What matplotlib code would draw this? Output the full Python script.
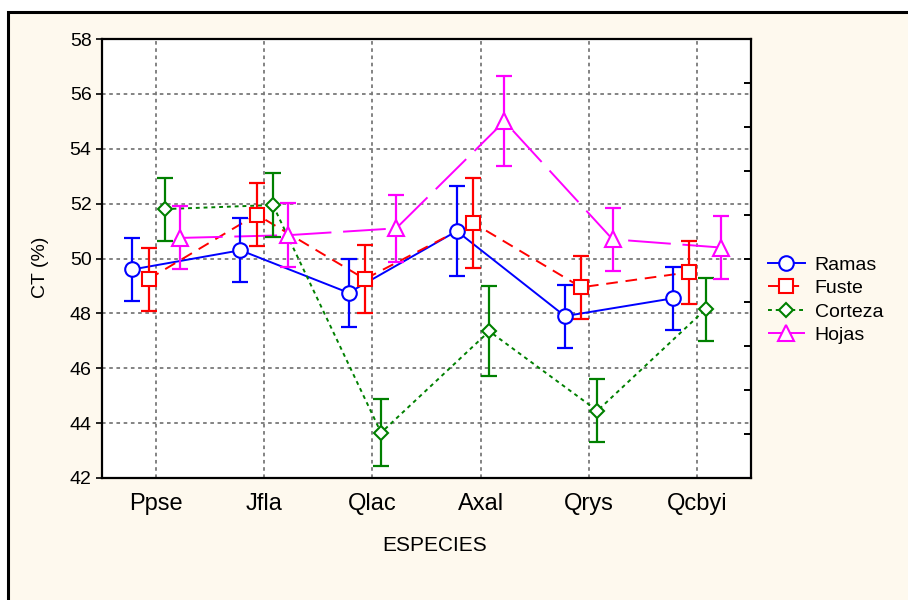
import matplotlib
matplotlib.use('Agg')
import matplotlib.pyplot as plt
import numpy as np
from matplotlib.patches import Rectangle

plt.rcParams['font.family'] = ['Liberation Sans', 'DejaVu Sans']

species = ['Ppse', 'Jfla', 'Qlac', 'Axal', 'Qrys', 'Qcbyi']
ramas = [49.6, 50.3, 48.75, 51.0, 47.9, 48.55]
fuste = [49.25, 51.6, 49.25, 51.3, 48.95, 49.5]
corteza = [51.8, 51.95, 43.65, 47.35, 44.45, 48.15]
hojas = [50.75, 50.85, 51.1, 55.0, 50.7, 50.4]
# half-width of the error bars, one per species
err = [1.15, 1.16, 1.23, 1.64, 1.15, 1.15]

fig = plt.figure(figsize=(9.08, 6.0), dpi=100, facecolor='white')

# cream panel with a black frame behind everything
panel = Rectangle((8 / 908, -0.1), 1.2, 1 - 12 / 600 + 0.1,
                  transform=fig.transFigure, facecolor='#fef9ee',
                  edgecolor='black', linewidth=2.2, zorder=-1)
fig.patches.append(panel)

ax = fig.add_axes([102 / 908, 1 - 478 / 600, 649 / 908, 439 / 600])
ax.set_facecolor('white')

x = np.arange(1, len(species) + 1)
series = [
    ('Ramas', ramas, 'blue', '-', 'o', 10.5, -0.22),
    ('Fuste', fuste, 'red', (0, (6, 4)), 's', 10.5, -0.07),
    ('Corteza', corteza, 'green', (0, (2, 2)), 'D', 7.5, 0.08),
    ('Hojas', hojas, 'magenta', (0, (22, 6)), '^', 11.5, 0.22),
]

handles = []
for name, vals, col, ls, mk, ms, dx in series:
    xs = x + dx
    ax.plot(xs, vals, color=col, linestyle=ls, linewidth=1.4, zorder=3)
    ax.errorbar(xs, vals, yerr=err, fmt='none', ecolor=col, elinewidth=1.6,
                capsize=6, capthick=1.6, zorder=4)
    ax.plot(xs, vals, linestyle='none', marker=mk, markersize=ms,
            markerfacecolor='white', markeredgecolor=col,
            markeredgewidth=1.5, zorder=5)
    h, = ax.plot([], [], color=col, linestyle=ls, linewidth=1.4, marker=mk,
                 markersize=ms, markerfacecolor='white', markeredgecolor=col,
                 markeredgewidth=1.5)
    handles.append(h)

ax.set_xlim(0.5, 6.5)
ax.set_ylim(42, 58)
ax.set_xticks(x)
ax.set_xticklabels(species, fontsize=17)
ax.set_yticks(np.arange(42, 59, 2))
ax.tick_params(axis='y', labelsize=14, direction='out', length=4, width=1.2)
ax.tick_params(axis='x', length=0, pad=11)
ax.grid(True, color='#7a7a7a', linestyle=(0, (2, 2)), linewidth=1.3)
ax.set_axisbelow(True)
for s in ax.spines.values():
    s.set_linewidth(1.6)

# right-hand axis: ten divisions, inward ticks, no labels
ax2 = ax.twinx()
ax2.set_ylim(42, 58)
ax2.set_yticks(np.linspace(42, 58, 11))
ax2.tick_params(axis='y', direction='in', length=5, width=1.4, labelright=False)
for s in ax2.spines.values():
    s.set_visible(False)

ax.set_ylabel('CT (%)', fontsize=14)
ax.yaxis.set_label_coords(-0.082, 0.48)
ax.set_xlabel('ESPECIES', fontsize=15)
ax.xaxis.set_label_coords(0.513, -0.132)

fig.legend(handles, [s[0] for s in series], loc='center left',
           bbox_to_anchor=(768 / 908, 1 - 300 / 600), frameon=False,
           fontsize=14, handlelength=1.9, handletextpad=0.5,
           labelspacing=0.3, borderpad=0, borderaxespad=0)

fig.savefig('out.png', dpi=100, facecolor=fig.get_facecolor())
